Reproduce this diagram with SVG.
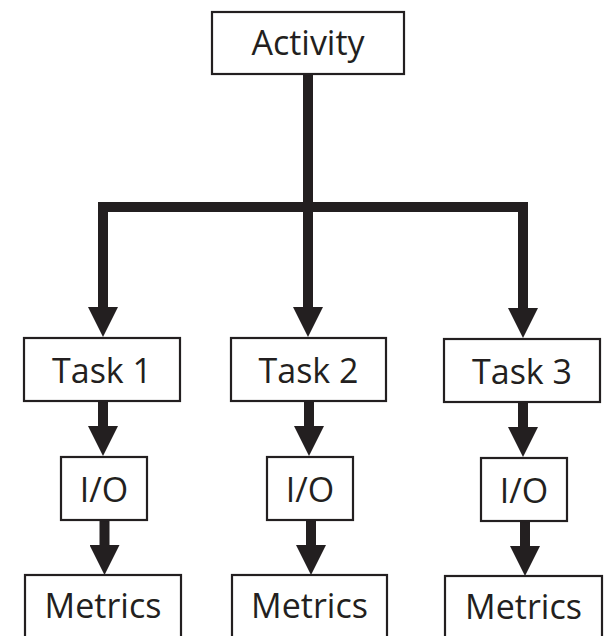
<svg xmlns="http://www.w3.org/2000/svg" width="604" height="636" viewBox="0 0 604 636">
<style>
.box{fill:#fff;stroke:#231f20;stroke-width:2.2}
.lbl{font-family:"Open Sans","Noto Sans",sans-serif;font-size:34px;fill:#231f20;text-anchor:middle}
.con{fill:none;stroke:#231f20;stroke-width:10;stroke-linejoin:miter;stroke-linecap:butt}
</style>
<defs>
<marker id="ah" markerUnits="userSpaceOnUse" viewBox="0 0 30 30" markerWidth="30" markerHeight="30" refX="0" refY="15" orient="auto">
<path d="M0,0 L30,15 L0,30 Z" fill="#231f20"/>
</marker>
</defs>
<rect width="604" height="636" fill="#fff"/>
<g id="connectors">
<path class="con" d="M308,75 V307" marker-end="url(#ah)"/>
<path class="con" d="M308,207 H103 V307" marker-end="url(#ah)"/>
<path class="con" d="M308,207 H523 V308" marker-end="url(#ah)"/>
<path class="con" d="M103,402 V426" marker-end="url(#ah)"/>
<path class="con" d="M104.5,521 V545" marker-end="url(#ah)"/>
<path class="con" d="M309,402 V426" marker-end="url(#ah)"/>
<path class="con" d="M311,521 V545" marker-end="url(#ah)"/>
<path class="con" d="M523,403 V427" marker-end="url(#ah)"/>
<path class="con" d="M525,522 V546" marker-end="url(#ah)"/>
</g>
<g id="activity"><rect class="box" x="212" y="12" width="192" height="62"/><text class="lbl" x="308" y="55">Activity</text></g>
<g id="task1"><rect class="box" x="24" y="338" width="156" height="63"/><text class="lbl" x="102" y="383">Task 1</text></g>
<g id="task2"><rect class="box" x="231" y="338" width="155" height="63"/><text class="lbl" x="308.5" y="383">Task 2</text></g>
<g id="task3"><rect class="box" x="444" y="339" width="156" height="63"/><text class="lbl" x="522" y="384">Task 3</text></g>
<g id="io1"><rect class="box" x="61" y="457" width="86" height="63"/><text class="lbl" x="104" y="502">I/O</text></g>
<g id="io2"><rect class="box" x="267" y="457" width="86" height="63"/><text class="lbl" x="310" y="502">I/O</text></g>
<g id="io3"><rect class="box" x="481" y="458" width="86" height="63"/><text class="lbl" x="524" y="503">I/O</text></g>
<g id="metrics1"><rect class="box" x="25" y="575" width="156" height="70"/><text class="lbl" x="103" y="618">Metrics</text></g>
<g id="metrics2"><rect class="box" x="232" y="575" width="155" height="70"/><text class="lbl" x="309.5" y="618">Metrics</text></g>
<g id="metrics3"><rect class="box" x="445" y="576" width="157" height="70"/><text class="lbl" x="523.5" y="619">Metrics</text></g>
</svg>
